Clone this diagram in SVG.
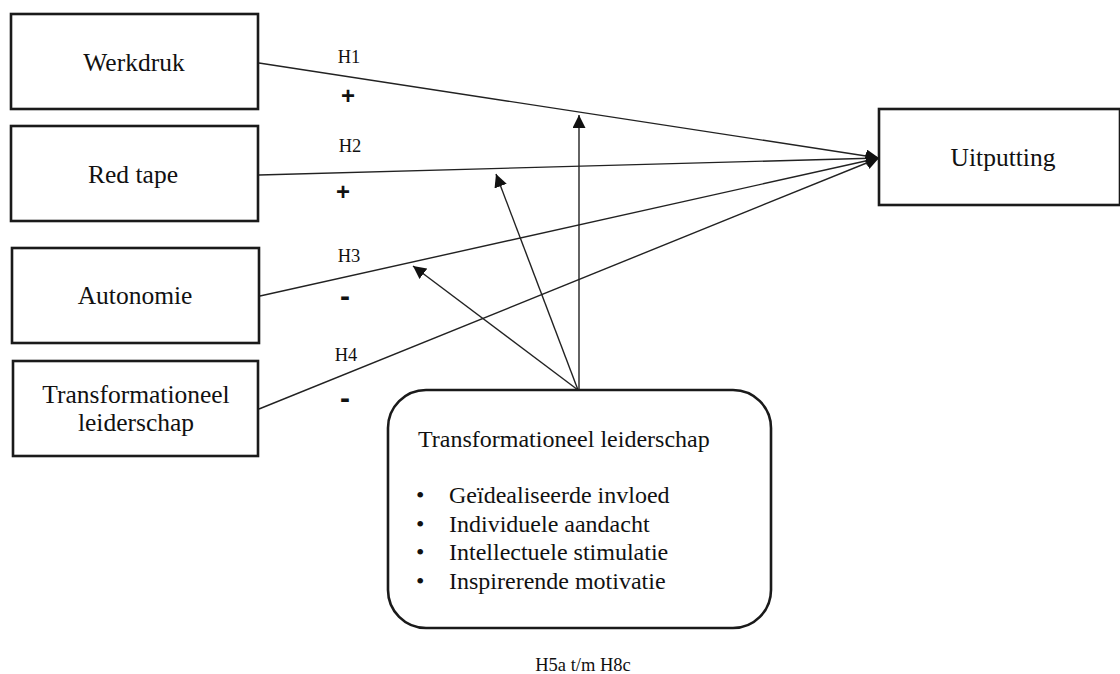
<svg xmlns="http://www.w3.org/2000/svg" width="1120" height="674" viewBox="0 0 1120 674">
<style>
  .box { fill: #fff; stroke: #1a1a1a; stroke-width: 2.6; }
  .lbl { font-family: "Liberation Serif", "Times New Roman", serif; font-size: 25.5px; fill: #111; }
  .mid { text-anchor: middle; }
  .h { font-family: "Liberation Serif", "Times New Roman", serif; font-size: 18.5px; fill: #111; text-anchor: middle; }
  .sign { font-family: "Liberation Sans", Arial, sans-serif; font-weight: bold; fill: #111; text-anchor: middle; }
  .con { stroke: #222; stroke-width: 1.4; fill: none; }
  .item { font-family: "Liberation Serif", "Times New Roman", serif; font-size: 24px; fill: #111; }
</style>
<defs>
  <marker id="ah" markerUnits="userSpaceOnUse" markerWidth="14" markerHeight="14" refX="13" refY="6.5" orient="auto">
    <path d="M0,0 L13,6.5 L0,13 z" fill="#111"/>
  </marker>
</defs>
<rect width="1120" height="674" fill="#fff"/>

<g id="connectors">
  <line class="con" x1="259" y1="63" x2="879" y2="158" marker-end="url(#ah)"/>
  <line class="con" x1="259" y1="175" x2="879" y2="158" marker-end="url(#ah)"/>
  <line class="con" x1="260" y1="296" x2="879" y2="158" marker-end="url(#ah)"/>
  <line class="con" x1="259" y1="409" x2="879" y2="158" marker-end="url(#ah)"/>
  <line class="con" x1="579" y1="390" x2="579" y2="115" marker-end="url(#ah)"/>
  <line class="con" x1="578" y1="390" x2="496" y2="174" marker-end="url(#ah)"/>
  <line class="con" x1="578" y1="390" x2="413" y2="266" marker-end="url(#ah)"/>
</g>

<g id="labels">
  <text class="h" x="349" y="63">H1</text>
  <text class="sign" x="348" y="104" font-size="24">+</text>
  <text class="h" x="350" y="152">H2</text>
  <text class="sign" x="343" y="200" font-size="24">+</text>
  <text class="h" x="349" y="262">H3</text>
  <text class="sign" x="345" y="306" font-size="30">-</text>
  <text class="h" x="346" y="361">H4</text>
  <text class="sign" x="345" y="408" font-size="30">-</text>
  <text class="h" x="583" y="671" font-size="19">H5a t/m H8c</text>
</g>

<g id="werkdruk">
  <rect class="box" x="11" y="14" width="247" height="95"/>
  <text class="lbl mid" x="134" y="71">Werkdruk</text>
</g>
<g id="redtape">
  <rect class="box" x="11" y="126" width="247" height="95"/>
  <text class="lbl mid" x="133" y="183">Red tape</text>
</g>
<g id="autonomie">
  <rect class="box" x="12" y="248" width="247" height="95"/>
  <text class="lbl mid" x="135" y="304">Autonomie</text>
</g>
<g id="transformationeel">
  <rect class="box" x="13" y="361" width="245" height="95"/>
  <text class="lbl mid" x="136" y="403">Transformationeel</text>
  <text class="lbl mid" x="136" y="431">leiderschap</text>
</g>
<g id="uitputting">
  <rect class="box" x="879" y="109" width="241" height="96"/>
  <text class="lbl mid" x="1003" y="166">Uitputting</text>
</g>
<g id="moderator">
  <rect class="box" x="388" y="390" width="383" height="238" rx="38" ry="38"/>
  <text class="item" x="418" y="447">Transformationeel leiderschap</text>
  <text class="item" x="416" y="503">•</text>
  <text class="item" x="449" y="503">Geïdealiseerde invloed</text>
  <text class="item" x="416" y="532">•</text>
  <text class="item" x="449" y="532">Individuele aandacht</text>
  <text class="item" x="416" y="560">•</text>
  <text class="item" x="449" y="560">Intellectuele stimulatie</text>
  <text class="item" x="416" y="589">•</text>
  <text class="item" x="449" y="589">Inspirerende motivatie</text>
</g>
</svg>
